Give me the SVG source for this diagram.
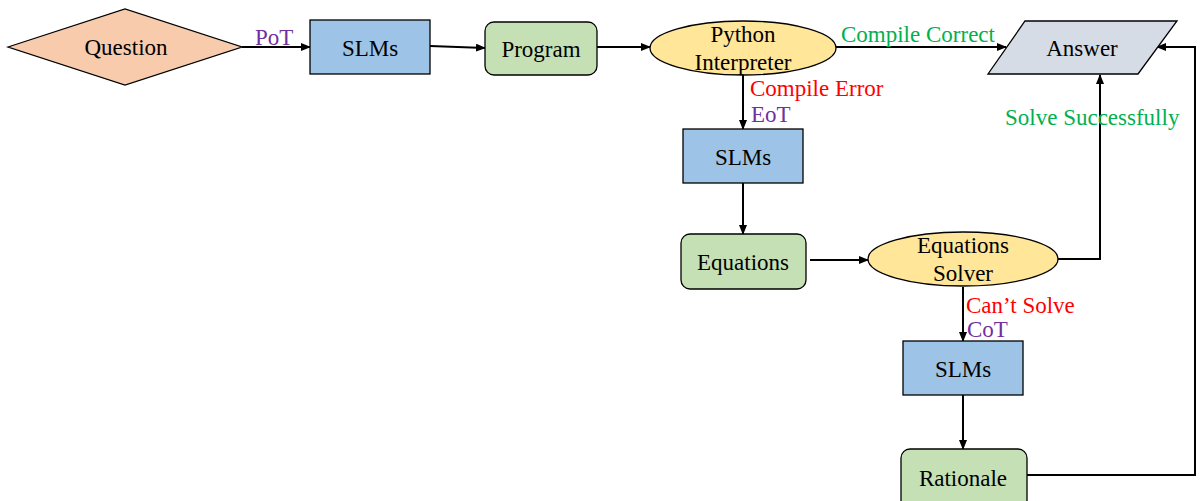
<svg xmlns="http://www.w3.org/2000/svg" width="1201" height="501" viewBox="0 0 1201 501">
<style>
text{font-family:"Liberation Serif","Times New Roman",serif;font-size:23px;fill:#000}
.c{text-anchor:middle}
.nd{stroke:#000;stroke-width:1.3}
.blue{fill:#9DC3E6}.green{fill:#C5E0B4}.yel{fill:#FFE699}.org{fill:#F8CBAD}.gry{fill:#D6DCE5}
.ln{fill:none;stroke:#000;stroke-width:2}
.arr{marker-end:url(#ah)}
.lg{fill:#00B050}.lr{fill:#FF0000}.lp{fill:#7030A0}
</style>
<defs>
<marker id="ah" markerWidth="10" markerHeight="8" refX="9" refY="4" orient="auto" markerUnits="userSpaceOnUse">
<path d="M0,0 L10,4 L0,8 z" fill="#000"/>
</marker>
</defs>
<rect width="1201" height="501" fill="#fff"/>
<g id="connectors">
<line class="ln arr" x1="242" y1="47" x2="310" y2="47"/>
<line class="ln arr" x1="430" y1="46" x2="485" y2="48"/>
<line class="ln arr" x1="597" y1="47" x2="650" y2="47"/>
<line class="ln arr" x1="836" y1="47" x2="1006" y2="47"/>
<line class="ln arr" x1="743" y1="75" x2="743" y2="129"/>
<line class="ln arr" x1="743" y1="183" x2="743" y2="234"/>
<line class="ln arr" x1="810" y1="260" x2="868" y2="260"/>
<polyline class="ln arr" points="1058,259 1100,259 1100,75"/>
<line class="ln arr" x1="963" y1="287" x2="963" y2="341"/>
<line class="ln arr" x1="963" y1="395" x2="963" y2="449"/>
<polyline class="ln arr" points="1027,475 1195,475 1195,47 1157,47"/>
<text class="lp" x="255" y="45">PoT</text>
<text class="lg" x="841" y="42">Compile Correct</text>
<text class="lr" x="750" y="96">Compile Error</text>
<text class="lp" x="751" y="122">EoT</text>
<text class="lg" x="1005" y="125">Solve Successfully</text>
<text class="lr" x="966" y="313">Can’t Solve</text>
<text class="lp" x="967" y="337">CoT</text>
</g>
<g id="question">
<polygon class="nd org" points="8,47 125,9 242,47 125,85"/>
<text class="c" x="126" y="55">Question</text>
</g>
<g id="slms1">
<rect class="nd blue" x="310" y="20" width="120" height="54"/>
<text class="c" x="370" y="56">SLMs</text>
</g>
<g id="program">
<rect class="nd green" x="485" y="22" width="112" height="53" rx="9"/>
<text class="c" x="541" y="57">Program</text>
</g>
<g id="python">
<ellipse class="nd yel" cx="743" cy="48" rx="93" ry="27"/>
<text class="c" x="743" y="42">Python</text>
<text class="c" x="743" y="70">Interpreter</text>
</g>
<g id="answer">
<polygon class="nd gry" points="1025,21 1177,21 1138,74 988,74"/>
<text class="c" x="1082" y="56">Answer</text>
</g>
<g id="slms2">
<rect class="nd blue" x="683" y="129" width="120" height="54"/>
<text class="c" x="743" y="165">SLMs</text>
</g>
<g id="equations">
<rect class="nd green" x="681" y="234" width="125" height="55" rx="9"/>
<text class="c" x="743" y="270">Equations</text>
</g>
<g id="solver">
<ellipse class="nd yel" cx="963" cy="259" rx="95" ry="27"/>
<text class="c" x="963" y="253">Equations</text>
<text class="c" x="963" y="281">Solver</text>
</g>
<g id="slms3">
<rect class="nd blue" x="903" y="341" width="120" height="54"/>
<text class="c" x="963" y="377">SLMs</text>
</g>
<g id="rationale">
<rect class="nd green" x="901" y="449" width="126" height="60" rx="9"/>
<text class="c" x="963" y="486">Rationale</text>
</g>
</svg>
